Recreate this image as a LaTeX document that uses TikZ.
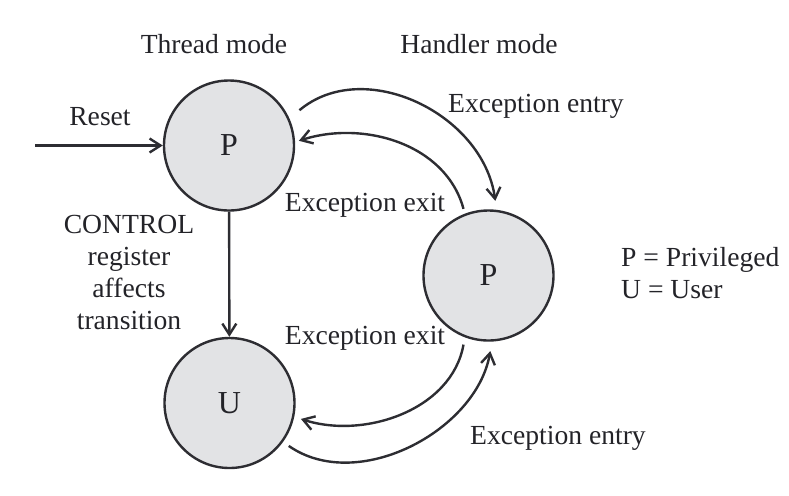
\documentclass[tikz,border=0pt]{standalone}
\usepackage{fontspec}
\setmainfont{Liberation Serif}
\usetikzlibrary{arrows.meta}
\definecolor{node_fill}{RGB}{226,227,229}
\definecolor{edge_dark}{RGB}{45,45,50}
\definecolor{text_ink}{RGB}{35,35,40}
\begin{document}
\begin{tikzpicture}[->,line width=1.2pt,>={Straight Barb[length=5.5pt,width=7pt]},x=0.5pt,y=-0.5pt,
    draw=edge_dark,text=text_ink,font=\fontsize{13.8}{16}\selectfont]
    \tikzstyle{mode}=[draw=edge_dark, circle, minimum size=65pt, inner sep=0pt, fill=node_fill, font=\fontsize{16}{18}\selectfont]
    \tikzstyle{lbl}=[anchor=base, inner sep=0pt]
    \path[use as bounding box] (0,0) rectangle (789,495);

    \node[mode] (tp) at (229,145.5) {P};
    \node[mode] (hp) at (488.5,275.5) {P};
    \node[mode] (tu) at (229.5,403) {U};
    \coordinate (rst) at (35,145.5);

    \node[lbl] (thr) at (214,53)  {Thread mode};
    \node[lbl] (hnd) at (479,53)  {Handler mode};
    \node[lbl] (res) at (100,125) {Reset};
    \node[lbl] (en1) at (536,112) {Exception entry};
    \node[lbl] (ex1) at (365,211) {Exception exit};
    \node[lbl] (ex2) at (365,344) {Exception exit};
    \node[lbl] (en2) at (558,444) {Exception entry};
    \node[anchor=north, inner sep=0pt, align=center] (ctl) at (129,214) {CONTROL\\register\\affects\\transition};
    \node[anchor=north west, inner sep=0pt, align=left] (key) at (620,246) {P = Privileged\\U = User};
    \path
     (rst) edge[] (tp)
     (tp) edge[] (tu)
     (tp.24)   edge[out=40,in=98,looseness=1.1,shorten <=6.5pt,shorten >=4.5pt] (hp.83)
     (hp.111)  edge[out=105,in=18,shorten <=2.5pt,shorten >=2pt] (tp.3)
     (hp.-111) edge[out=-100,in=-18,shorten <=3.7pt,shorten >=3.5pt] (tu.-12)
     (tu.-36)  edge[out=-35,in=-100,shorten <=3.5pt,shorten >=4.8pt] (hp.-87)
     ;
\end{tikzpicture}
\end{document}
